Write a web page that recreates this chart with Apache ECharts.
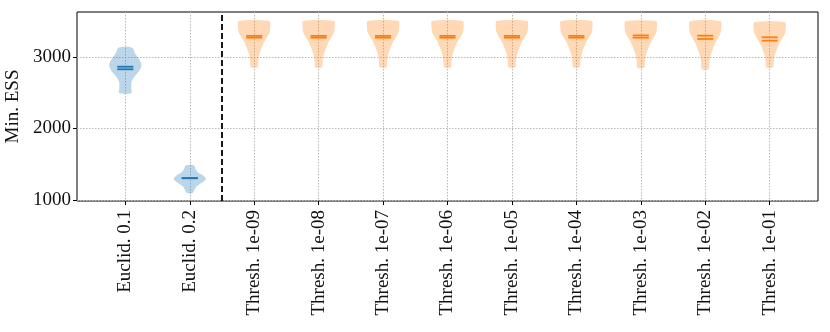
<!DOCTYPE html>
<html>
<head>
<meta charset="utf-8">
<script src="https://cdn.jsdelivr.net/npm/echarts@6/dist/echarts.min.js"></script>
<style>
  html, body { margin: 0; padding: 0; background: #fff; }
  #chart { width: 830px; height: 332px; }
</style>
</head>
<body>
<div id="chart"></div>
<script>
// categories along the x axis
const categories = [
  'Euclid. 0.1', 'Euclid. 0.2',
  'Thresh. 1e-09', 'Thresh. 1e-08', 'Thresh. 1e-07', 'Thresh. 1e-06', 'Thresh. 1e-05',
  'Thresh. 1e-04', 'Thresh. 1e-03', 'Thresh. 1e-02', 'Thresh. 1e-01'
];
// which group (0 = Euclid, 1 = Thresh) each violin belongs to
const groupOf = [0, 0, 1, 1, 1, 1, 1, 1, 1, 1, 1];
// extent of each violin (min / max Min. ESS)
const lows  = [2495, 1097, 2858, 2858, 2858, 2858, 2858, 2858, 2850, 2828, 2856];
const highs = [3130, 1486, 3502, 3502, 3502, 3502, 3502, 3502, 3498, 3500, 3485];
// relative kde density sampled evenly from low to high
const densEuclid01 = [0.37, 0.37, 0.39, 0.6, 0.88, 1.0, 0.85, 0.6, 0.42];
const densEuclid02 = [0.18, 0.3, 0.45, 0.75, 1.0, 0.85, 0.5, 0.35, 0.25];
const densThresh   = [0.21, 0.25, 0.3, 0.42, 0.56, 0.75, 0.95, 1.0, 0.95];
// mean and median markers
const means   = [2828, 1305, 3270, 3270, 3270, 3270, 3270, 3270, 3270, 3252, 3228];
const medians = [2864, 1305, 3295, 3295, 3295, 3295, 3295, 3295, 3302, 3298, 3275];
const yTicks = [1000, 2000, 3000];

const densities = [densEuclid01, densEuclid02].concat(categories.slice(2).map(() => densThresh));
const fills = ['rgba(31,119,180,0.3)', 'rgba(255,127,14,0.3)'];
const strokes = ['#1f77b4', '#ff7f0e'];
const xTicks = categories.map((c, i) => i);

const chart = echarts.init(document.getElementById('chart'));

const font = 'Liberation Serif';

function renderViolin(params, api) {
  const i = api.value(0);
  const d = densities[i];
  const lo = lows[i], hi = highs[i];
  const n = d.length;
  const left = [], right = [];
  for (let k = 0; k < n; k++) {
    const y = lo + (hi - lo) * k / (n - 1);
    left.push(api.coord([i - 0.25 * d[k], y]));
    right.push(api.coord([i + 0.25 * d[k], y]));
  }
  const pts = left.concat(right.reverse());
  const g = groupOf[i];
  const children = [{
    type: 'polygon',
    shape: { points: pts, smooth: 0.3 },
    style: { fill: fills[g], stroke: null }
  }];
  [means[i], medians[i]].forEach(v => {
    const a = api.coord([i - 0.125, v]);
    const b = api.coord([i + 0.125, v]);
    children.push({
      type: 'line',
      shape: { x1: a[0], y1: a[1], x2: b[0], y2: b[1] },
      style: { stroke: strokes[g], lineWidth: 1.8 }
    });
  });
  return { type: 'group', children: children };
}

const option = {
  animation: false,
  grid: {
    left: 77, right: 12, top: 12, bottom: 131,
    outerBoundsMode: 'none',
    containLabel: false,
    show: true, borderColor: '#000', borderWidth: 1
  },
  xAxis: {
    type: 'value',
    min: -0.75, max: 10.75,
    axisLine: { show: false, onZero: false },
    axisTick: { show: true, customValues: xTicks, length: 4, lineStyle: { color: '#000', width: 1 } },
    axisLabel: {
      customValues: xTicks,
      rotate: 90,
      margin: 9,
      fontFamily: font, fontSize: 19, color: '#111',
      formatter: v => categories[Math.round(v)]
    },
    splitLine: { show: true, lineStyle: { color: '#b8b8b8', type: [1.5, 1.5], width: 1 } }
  },
  yAxis: {
    type: 'value',
    min: 986, max: 3629,
    name: 'Min. ESS',
    nameLocation: 'middle',
    nameRotate: 90,
    nameGap: 52,
    nameTextStyle: { fontFamily: font, fontSize: 19, color: '#111' },
    axisLine: { show: false, onZero: false },
    axisTick: { show: true, customValues: yTicks, length: 4, lineStyle: { color: '#000', width: 1 } },
    axisLabel: {
      customValues: yTicks, fontFamily: font, fontSize: 19, color: '#111', margin: 6,
      formatter: v => String(v)
    },
    splitLine: { show: true, lineStyle: { color: '#b8b8b8', type: [1.5, 1.5], width: 1 } }
  },
  series: [{
    type: 'custom',
    renderItem: renderViolin,
    data: xTicks.map(i => [i]),
    encode: { x: 0 },
    clip: true,
    markLine: {
      silent: true,
      symbol: 'none',
      label: { show: false },
      lineStyle: { color: '#000', type: [6, 3], width: 1.8 },
      data: [{ xAxis: 1.5 }]
    }
  }]
};

chart.setOption(option);
</script>
</body>
</html>
